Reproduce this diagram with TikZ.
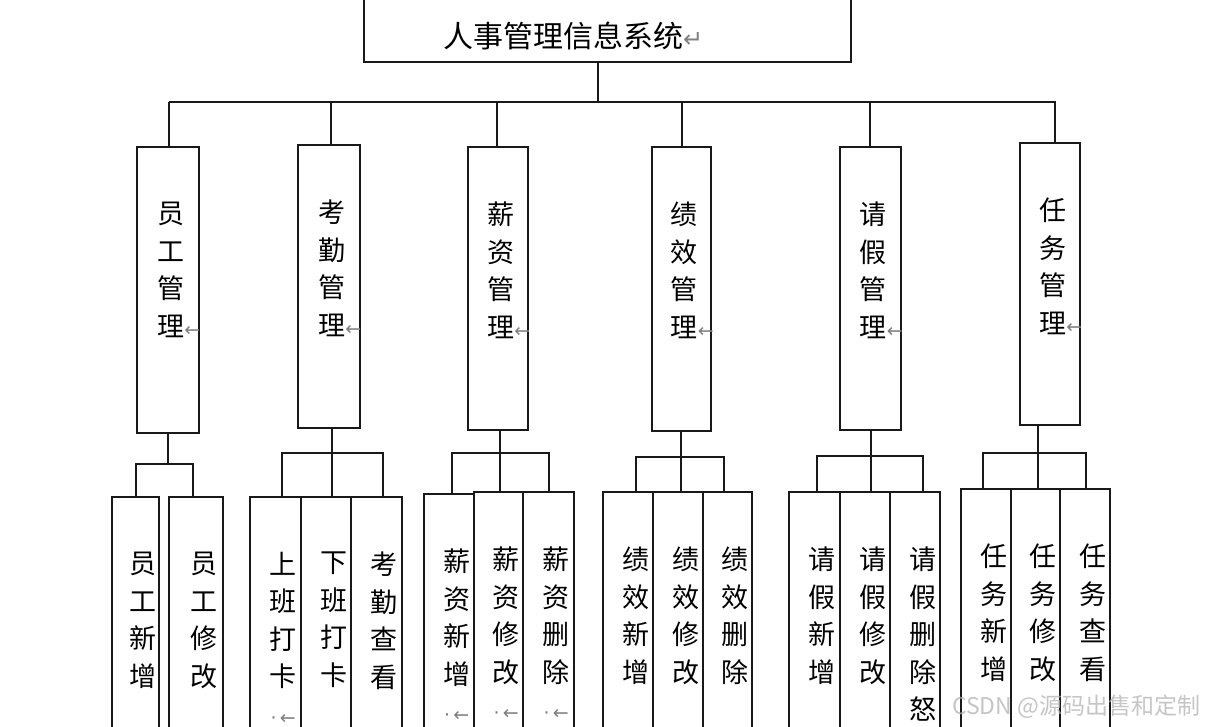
\documentclass[tikz,border=0pt]{standalone}
\usepackage{fontspec}
\usepackage{xcolor}
\usepackage{tikz}
\usetikzlibrary{positioning}

\newfontfamily\cjk{Noto Sans CJK SC}
\newfontfamily\symb{DejaVu Sans}
% paragraph marks as the editor shows them
\newcommand\retarrow{\rlap{\textcolor{gray}{\symb\fontsize{19}{19}\selectfont ←}}}
\newcommand\retenter{\textcolor{gray}{\symb\fontsize{24}{24}\selectfont ↵}}
\newcommand\retdot{{\textcolor{gray}{\symb\fontsize{19}{19}\selectfont ·\,←}}}

\begin{document}
\begin{tikzpicture}[
    x=1pt, y=-1pt,
    node font=\cjk\fontsize{27}{37.5}\selectfont,
    box/.style={draw=black!90, line width=1.6pt, fill=white, inner sep=0pt, anchor=north west},
    vtext/.style={align=center, inner sep=0pt},
    link/.style={draw=black!90, line width=1.6pt},
    wmark/.style={text=gray!60, opacity=0.75, font=\cjk\fontsize{23}{23}\selectfont, inner sep=0pt}
]
  \clip (0,0) rectangle (1209,727);

  % --- ROOT ---
  \node[box, minimum width=487pt, minimum height=86pt] (root) at (363,-25) {};
  \node[vtext, font=\cjk\fontsize{30}{30}\selectfont, right=80pt of root.west, yshift=-17pt] (root-t) {人事管理信息系统\retenter};

  % --- MODULES ---
  \node[box, minimum width=62pt, minimum height=286pt] (yg) at (136,146) {};
  \node[box, minimum width=62pt, minimum height=283pt] (kq) at (297,144) {};
  \node[box, minimum width=60pt, minimum height=283pt] (xz) at (467,146) {};
  \node[box, minimum width=59pt, minimum height=284pt] (jx) at (651,146) {};
  \node[box, minimum width=61pt, minimum height=283pt] (qj) at (839,146) {};
  \node[box, minimum width=60pt, minimum height=282pt] (rw) at (1019,142) {};
  \foreach \m/\txt in {yg/{员\\工\\管\\理\retarrow}, kq/{考\\勤\\管\\理\retarrow},
      xz/{薪\\资\\管\\理\retarrow}, jx/{绩\\效\\管\\理\retarrow},
      qj/{请\\假\\管\\理\retarrow}, rw/{任\\务\\管\\理\retarrow}}
    \node[vtext, below=56pt of \m.north, xshift=3pt] (\m-t) {\txt};

  % --- FUNCTIONS ---
  \foreach \n/\x/\y/\w in {yg1/111/496/47, yg2/168/496/54,
      kq1/249/496/51, kq2/300/496/50, kq3/350/496/51,
      xz1/423/493/50, xz2/473/491/49, xz3/522/491/51,
      jx1/602/491/50, jx2/652/491/50, jx3/702/491/49,
      qj1/788/491/51, qj2/839/491/50, qj3/889/491/50,
      rw1/960/488/50, rw2/1010/488/49, rw3/1059/488/50}
    \node[box, minimum width=\w pt, minimum height=300pt] (\n) at (\x,\y) {};
  \foreach \n/\txt in {yg1/{员\\工\\新\\增}, yg2/{员\\工\\修\\改},
      kq1/{上\\班\\打\\卡\\\retdot}, kq2/{下\\班\\打\\卡}, kq3/{考\\勤\\查\\看},
      xz1/{薪\\资\\新\\增\\\retdot}, xz2/{薪\\资\\修\\改\\\retdot}, xz3/{薪\\资\\删\\除\\\retdot},
      jx1/{绩\\效\\新\\增}, jx2/{绩\\效\\修\\改}, jx3/{绩\\效\\删\\除},
      qj1/{请\\假\\新\\增}, qj2/{请\\假\\修\\改}, qj3/{请\\假\\删\\除\\怒},
      rw1/{任\\务\\新\\增}, rw2/{任\\务\\修\\改}, rw3/{任\\务\\查\\看}}
    \node[vtext, below=56pt of \n.north, xshift=8pt] (\n-t) {\txt};

  % --- CONNECTORS: root -> modules ---
  \coordinate (bus) at (598,102);
  \coordinate (bus-l) at (169,102);
  \coordinate (bus-r) at (1056,102);
  \draw[link] (root.south -| bus) -- (bus);
  \draw[link] (bus-l) -- (bus-r);
  \foreach \m/\dx in {yg/169, kq/331, xz/497, jx/682, qj/870, rw/1055}
    \draw[link] (\dx,102) -- (\m.north -| \dx,0);

  % --- CONNECTORS: modules -> functions ---
  \draw[link] (yg.south) -- (yg.south |- 0,464);
  \draw[link] (yg1.north -| 136,0) |- (193,464) -- (yg2.north -| 193,0);
  \foreach \p/\a/\b/\c/\xa/\xb/\xc/\by in {
      kq/kq1/kq2/kq3/282/332/383/453,
      xz/xz1/xz2/xz3/452/500/549/453,
      jx/jx1/jx2/jx3/636/681/724/457,
      qj/qj1/qj2/qj3/817/871/923/456,
      rw/rw1/rw2/rw3/983/1038/1086/453} {
    \draw[link] (\p.south -| \xb,0) -- (\xb,\by);
    \draw[link] (\a.north -| \xa,0) |- (\xc,\by) -- (\c.north -| \xc,0);
    \draw[link] (\xb,\by) -- (\b.north -| \xb,0);
  }

  % watermark
  \node[wmark, anchor=west] (wm) at (952,707) {CSDN @源码出售和定制};
\end{tikzpicture}
\end{document}
